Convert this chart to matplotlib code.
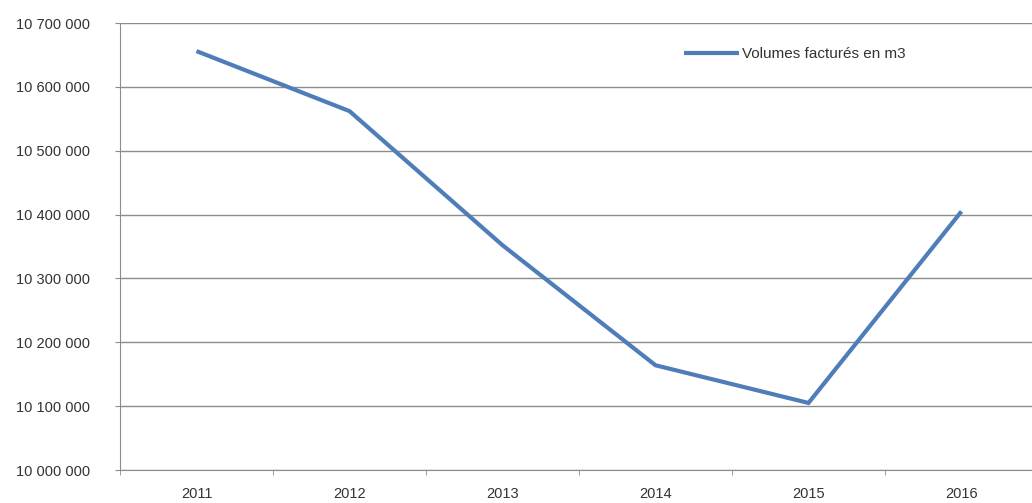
import matplotlib
matplotlib.use("Agg")
import matplotlib.pyplot as plt
from matplotlib.ticker import FuncFormatter, FixedLocator

years = ["2011", "2012", "2013", "2014", "2015", "2016"]
volumes = [10656000, 10562000, 10352000, 10164000, 10105000, 10405000]
series_label = "Volumes facturés en m3"

plt.rcParams['font.family'] = ['Liberation Sans', 'DejaVu Sans']

fig = plt.figure(figsize=(10.32, 5.03), dpi=100)
ax = fig.add_axes([120/1032, 1-470/503, 1-120/1032, (470-23)/503])

x = list(range(len(years)))
ax.plot(x, volumes, color='#4F7DBA', lw=3.0, label=series_label, solid_capstyle='butt', solid_joinstyle='miter')

ax.set_ylim(10000000, 10700000)
ax.set_xlim(-0.5, -0.5 + 912/153)
ax.set_yticks([10000000 + i*100000 for i in range(8)])
ax.yaxis.set_major_formatter(FuncFormatter(lambda v, p: f"{int(v):,}".replace(",", " ")))
ax.grid(axis='y', color='#8C8C8C', lw=1.0)
ax.set_axisbelow(True)

ax.set_xticks(x)
ax.set_xticklabels(years)
ax.xaxis.set_minor_locator(FixedLocator([i - 0.5 for i in range(7)]))
ax.tick_params(axis='x', which='major', length=0, pad=12, labelsize=10.5, labelcolor='#333333')
ax.tick_params(axis='x', which='minor', length=3.5, color='#8C8C8C', direction='out')
ax.tick_params(axis='y', length=3.5, color='#8C8C8C', pad=18, labelsize=10.5, labelcolor='#333333')

for s in ['top', 'right']:
    ax.spines[s].set_visible(False)
ax.spines['left'].set_color('#8C8C8C')
ax.spines['bottom'].set_color('#8C8C8C')

ax.legend(loc='center left', bbox_to_anchor=((670-120)/912, (503-54-33)/447), frameon=False,
          handlelength=3.6, handletextpad=0.2, fontsize=11, labelcolor='#333333')

fig.savefig("out.png", dpi=100, facecolor='white')
